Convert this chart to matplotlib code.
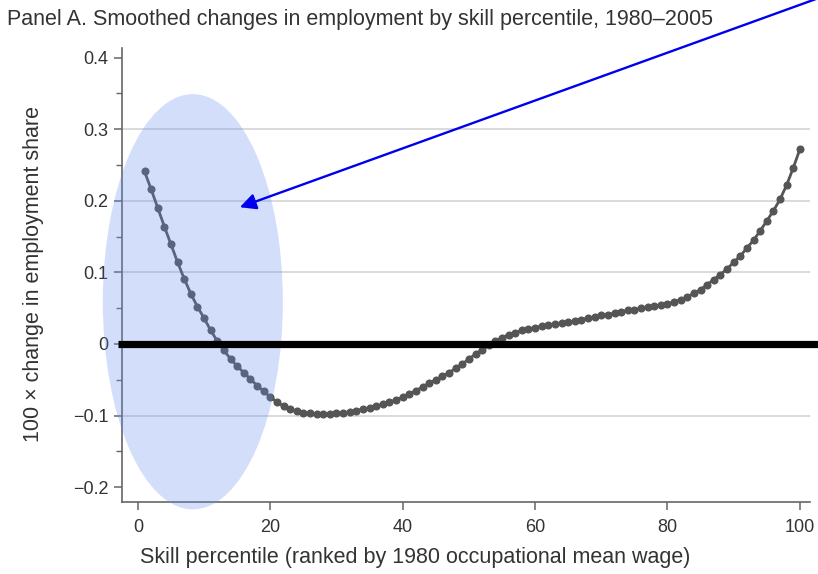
import numpy as np
import matplotlib
matplotlib.use("Agg")
import matplotlib.pyplot as plt
from matplotlib import font_manager
from matplotlib.patches import Ellipse

names = {f.name for f in font_manager.fontManager.ttflist}
fam = "Liberation Sans Narrow" if "Liberation Sans Narrow" in names else "Liberation Sans"
plt.rcParams['font.family'] = [fam, 'DejaVu Sans']

percentile = np.arange(1, 101)
emp_change = [
    0.241, 0.216, 0.190, 0.164, 0.139, 0.114, 0.091, 0.070, 0.052, 0.036,
    0.019, 0.004, -0.009, -0.021, -0.031, -0.040, -0.049, -0.058, -0.066, -0.074,
    -0.081, -0.087, -0.091, -0.094, -0.096, -0.097, -0.098, -0.098, -0.098, -0.097,
    -0.096, -0.095, -0.093, -0.091, -0.089, -0.087, -0.084, -0.081, -0.078, -0.074,
    -0.070, -0.065, -0.060, -0.055, -0.050, -0.045, -0.040, -0.034, -0.028, -0.021,
    -0.014, -0.008, -0.002, 0.004, 0.009, 0.013, 0.016, 0.019, 0.021, 0.023,
    0.025, 0.026, 0.028, 0.029, 0.031, 0.032, 0.034, 0.036, 0.038, 0.040,
    0.041, 0.043, 0.045, 0.047, 0.048, 0.050, 0.051, 0.053, 0.054, 0.056,
    0.059, 0.062, 0.066, 0.071, 0.076, 0.083, 0.090, 0.097, 0.105, 0.114,
    0.123, 0.134, 0.145, 0.158, 0.172, 0.186, 0.202, 0.222, 0.246, 0.272,
]
xticks = [0, 20, 40, 60, 80, 100]
yticks = [-0.2, -0.1, 0, 0.1, 0.2, 0.3, 0.4]
ytick_labels = ["\u22120.2", "\u22120.1", "0", "0.1", "0.2", "0.3", "0.4"]

fig = plt.figure(figsize=(8.18, 5.74), dpi=100)
ax = fig.add_axes([0.149, 0.1254, 0.841, 0.791])

for v in [-0.1, 0.1, 0.2, 0.3]:
    ax.axhline(v, color="#d4d4d4", lw=1.2, zorder=0)

ax.plot(percentile, emp_change, color="#555555", lw=2.0, marker="o", ms=4.8,
        zorder=3)

ax.set_xlim(-2.42, 101.5)
ax.set_ylim(-0.2207, 0.4134)
ax.set_xticks(xticks)
ax.set_yticks(yticks)
ax.set_yticklabels(ytick_labels)
ax.set_yticks(np.arange(-0.15, 0.4, 0.1), minor=True)
for s in ["top", "right"]:
    ax.spines[s].set_visible(False)
for s in ["left", "bottom"]:
    ax.spines[s].set_color("#666666")
    ax.spines[s].set_linewidth(1.2)
ax.tick_params(which="major", length=6, width=1.1, color="#666666",
               labelsize=13, labelcolor="#333333")
ax.tick_params(which="minor", length=4, width=1.0, color="#666666")
ax.tick_params(axis="x", pad=6)

ax.set_xlabel("Skill percentile (ranked by 1980 occupational mean wage)",
              fontsize=15.5, color="#333333")
ax.xaxis.set_label_coords(0.427, -0.10)
ax.set_ylabel("100 \u00d7 change in employment share", fontsize=15.5,
              color="#333333")
ax.yaxis.set_label_coords(-0.113, 0.502)
fig.text(0.008, 0.966, "Panel A. Smoothed changes in employment by skill percentile, 1980\u20132005",
         fontsize=15.5, color="#333333", ha="left", va="center")

# highlight ellipse and arrow
ell = Ellipse((8.3, 0.059), 27.2, 0.58, facecolor=(100/255, 140/255, 240/255),
              alpha=0.28, edgecolor="none", zorder=5, clip_on=False)
ax.add_patch(ell)
ax.annotate("", xy=(15.4, 0.191), xycoords="data",
            xytext=(1.0, 1.003), textcoords="figure fraction",
            arrowprops=dict(arrowstyle="-|>", color="#0000ee", lw=1.7,
                            mutation_scale=24, shrinkA=0, shrinkB=0),
            annotation_clip=False, zorder=6)

ax.plot([-3.0, 103.0], [0, 0], color="black", lw=5.2, clip_on=False,
        solid_capstyle="butt", zorder=7)

fig.savefig("out.png", dpi=100)
